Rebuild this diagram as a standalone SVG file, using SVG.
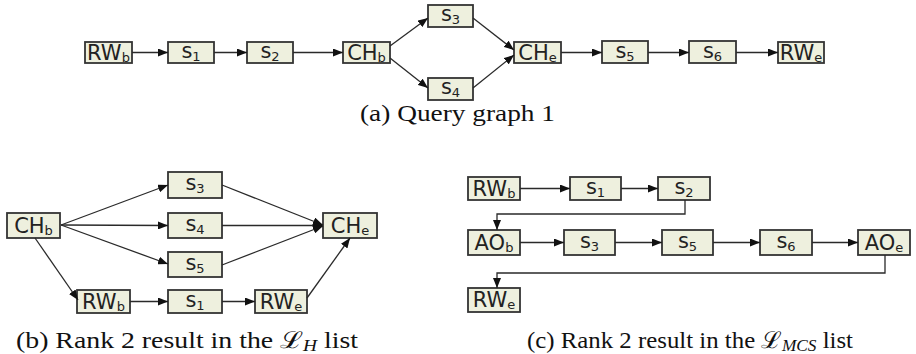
<svg xmlns="http://www.w3.org/2000/svg" width="916" height="354" viewBox="0 0 916 354">
<defs>
<style>
.box{fill:#eef0de;stroke:#333;stroke-width:1.8}
.lbl{font-family:"DejaVu Sans",Verdana,sans-serif;font-size:21px;fill:#222;text-anchor:middle}
.sub{font-size:13px}
.edge{fill:none;stroke:#2a2a2a;stroke-width:1.3}
.cap{font-family:"Liberation Serif","DejaVu Serif",serif;font-size:23px;fill:#111}
</style>
<marker id="ah" viewBox="0 0 10 8" refX="10" refY="4" markerWidth="10" markerHeight="8" markerUnits="userSpaceOnUse" orient="auto">
<path d="M0,0 L10,4 L0,8 Z" fill="#111"/>
</marker>
</defs>
<rect width="916" height="354" fill="#fff"/>

<!-- (a) Query graph 1 -->
<g id="a-RWb"><rect class="box" x="85" y="42" width="47" height="21"/><text class="lbl" x="108.5" y="60">RW<tspan class="sub" dy="2">b</tspan></text></g>
<g id="a-s1"><rect class="box" x="168" y="42" width="46" height="21"/><text class="lbl" x="191" y="58">s<tspan class="sub" dy="3">1</tspan></text></g>
<g id="a-s2"><rect class="box" x="247" y="42" width="46" height="21"/><text class="lbl" x="270" y="58">s<tspan class="sub" dy="3">2</tspan></text></g>
<g id="a-CHb"><rect class="box" x="343" y="42" width="47" height="21"/><text class="lbl" x="366.5" y="60">CH<tspan class="sub" dy="2">b</tspan></text></g>
<g id="a-s3"><rect class="box" x="428" y="5" width="45" height="22"/><text class="lbl" x="450.5" y="21">s<tspan class="sub" dy="3">3</tspan></text></g>
<g id="a-s4"><rect class="box" x="428" y="78" width="45" height="22"/><text class="lbl" x="450.5" y="94">s<tspan class="sub" dy="3">4</tspan></text></g>
<g id="a-CHe"><rect class="box" x="514" y="42" width="47" height="21"/><text class="lbl" x="537.5" y="60">CH<tspan class="sub" dy="2">e</tspan></text></g>
<g id="a-s5"><rect class="box" x="602" y="41" width="46" height="22"/><text class="lbl" x="625" y="58">s<tspan class="sub" dy="3">5</tspan></text></g>
<g id="a-s6"><rect class="box" x="689" y="41" width="47" height="22"/><text class="lbl" x="712.5" y="58">s<tspan class="sub" dy="3">6</tspan></text></g>
<g id="a-RWe"><rect class="box" x="778" y="42" width="46" height="21"/><text class="lbl" x="801" y="60">RW<tspan class="sub" dy="2">e</tspan></text></g>
<text class="cap" x="360" y="121" textLength="195" lengthAdjust="spacingAndGlyphs">(a) Query graph 1</text>

<!-- (b) -->
<g id="b-CHb"><rect class="box" x="7" y="213" width="53" height="25"/><text class="lbl" x="33.5" y="233">CH<tspan class="sub" dy="2">b</tspan></text></g>
<g id="b-s3"><rect class="box" x="168" y="172" width="54" height="26"/><text class="lbl" x="195" y="190">s<tspan class="sub" dy="3">3</tspan></text></g>
<g id="b-s4"><rect class="box" x="168" y="213" width="54" height="25"/><text class="lbl" x="195" y="231">s<tspan class="sub" dy="3">4</tspan></text></g>
<g id="b-s5"><rect class="box" x="168" y="252" width="54" height="25"/><text class="lbl" x="195" y="270">s<tspan class="sub" dy="3">5</tspan></text></g>
<g id="b-CHe"><rect class="box" x="323" y="213" width="54" height="25"/><text class="lbl" x="350" y="233">CH<tspan class="sub" dy="2">e</tspan></text></g>
<g id="b-RWb"><rect class="box" x="77" y="290" width="53" height="23"/><text class="lbl" x="103.5" y="309">RW<tspan class="sub" dy="2">b</tspan></text></g>
<g id="b-s1"><rect class="box" x="168" y="290" width="54" height="23"/><text class="lbl" x="195" y="307">s<tspan class="sub" dy="3">1</tspan></text></g>
<g id="b-RWe"><rect class="box" x="255" y="290" width="52" height="23"/><text class="lbl" x="281" y="309">RW<tspan class="sub" dy="2">e</tspan></text></g>
<text class="cap" x="16" y="348" textLength="342" lengthAdjust="spacingAndGlyphs">(b) Rank 2 result in the <tspan font-family="'DejaVu Serif',serif">ℒ</tspan><tspan font-style="italic" font-size="16" dy="3">H</tspan><tspan dy="-3"> list</tspan></text>

<!-- (c) -->
<g id="c-RWb"><rect class="box" x="468" y="177" width="52" height="23"/><text class="lbl" x="494" y="196">RW<tspan class="sub" dy="2">b</tspan></text></g>
<g id="c-s1"><rect class="box" x="570" y="177" width="51" height="23"/><text class="lbl" x="595.5" y="194">s<tspan class="sub" dy="3">1</tspan></text></g>
<g id="c-s2"><rect class="box" x="658" y="177" width="52" height="23"/><text class="lbl" x="684" y="194">s<tspan class="sub" dy="3">2</tspan></text></g>
<g id="c-AOb"><rect class="box" x="468" y="230" width="52" height="25"/><text class="lbl" x="494" y="250">AO<tspan class="sub" dy="2">b</tspan></text></g>
<g id="c-s3"><rect class="box" x="564" y="230" width="51" height="25"/><text class="lbl" x="589.5" y="248">s<tspan class="sub" dy="3">3</tspan></text></g>
<g id="c-s5"><rect class="box" x="662" y="230" width="51" height="25"/><text class="lbl" x="687.5" y="248">s<tspan class="sub" dy="3">5</tspan></text></g>
<g id="c-s6"><rect class="box" x="760" y="230" width="52" height="25"/><text class="lbl" x="786" y="248">s<tspan class="sub" dy="3">6</tspan></text></g>
<g id="c-AOe"><rect class="box" x="858" y="230" width="52" height="25"/><text class="lbl" x="884" y="250">AO<tspan class="sub" dy="2">e</tspan></text></g>
<g id="c-RWe"><rect class="box" x="468" y="288" width="52" height="24"/><text class="lbl" x="494" y="307">RW<tspan class="sub" dy="2">e</tspan></text></g>
<text class="cap" x="527" y="348" textLength="326" lengthAdjust="spacingAndGlyphs">(c) Rank 2 result in the <tspan font-family="'DejaVu Serif',serif">ℒ</tspan><tspan font-style="italic" font-size="16" dy="3">MCS</tspan><tspan dy="-3"> list</tspan></text>

<g id="connectors">
<line class="edge" x1="132" y1="52.5" x2="168" y2="52.5" marker-end="url(#ah)"/>
<line class="edge" x1="214" y1="52.5" x2="247" y2="52.5" marker-end="url(#ah)"/>
<line class="edge" x1="293" y1="52.5" x2="343" y2="52.5" marker-end="url(#ah)"/>
<line class="edge" x1="390" y1="46" x2="428" y2="18" marker-end="url(#ah)"/>
<line class="edge" x1="390" y1="58" x2="428" y2="88" marker-end="url(#ah)"/>
<line class="edge" x1="473" y1="18" x2="514" y2="50" marker-end="url(#ah)"/>
<line class="edge" x1="473" y1="88" x2="514" y2="55" marker-end="url(#ah)"/>
<line class="edge" x1="561" y1="52.5" x2="602" y2="52.5" marker-end="url(#ah)"/>
<line class="edge" x1="648" y1="52.5" x2="689" y2="52.5" marker-end="url(#ah)"/>
<line class="edge" x1="736" y1="52.5" x2="778" y2="52.5" marker-end="url(#ah)"/>

<line class="edge" x1="61" y1="225" x2="168" y2="185" marker-end="url(#ah)"/>
<line class="edge" x1="61" y1="225" x2="168" y2="225.5" marker-end="url(#ah)"/>
<line class="edge" x1="61" y1="225" x2="168" y2="264" marker-end="url(#ah)"/>
<line class="edge" x1="222" y1="185" x2="323" y2="225" marker-end="url(#ah)"/>
<line class="edge" x1="222" y1="225.5" x2="323" y2="225.5" marker-end="url(#ah)"/>
<line class="edge" x1="222" y1="265" x2="323" y2="226" marker-end="url(#ah)"/>
<line class="edge" x1="35" y1="238" x2="78" y2="300" marker-end="url(#ah)"/>
<line class="edge" x1="130" y1="301.5" x2="168" y2="301.5" marker-end="url(#ah)"/>
<line class="edge" x1="222" y1="301.5" x2="255" y2="301.5" marker-end="url(#ah)"/>
<line class="edge" x1="307" y1="298" x2="350" y2="238" marker-end="url(#ah)"/>

<line class="edge" x1="520" y1="188.5" x2="570" y2="188.5" marker-end="url(#ah)"/>
<line class="edge" x1="621" y1="188.5" x2="658" y2="188.5" marker-end="url(#ah)"/>
<polyline class="edge" points="685,200 685,214 497,214 497,230" marker-end="url(#ah)"/>
<line class="edge" x1="520" y1="242.5" x2="564" y2="242.5" marker-end="url(#ah)"/>
<line class="edge" x1="615" y1="242.5" x2="662" y2="242.5" marker-end="url(#ah)"/>
<line class="edge" x1="713" y1="242.5" x2="760" y2="242.5" marker-end="url(#ah)"/>
<line class="edge" x1="812" y1="242.5" x2="858" y2="242.5" marker-end="url(#ah)"/>
<polyline class="edge" points="885,255 885,273 497,273 497,288" marker-end="url(#ah)"/>
</g>
</svg>
